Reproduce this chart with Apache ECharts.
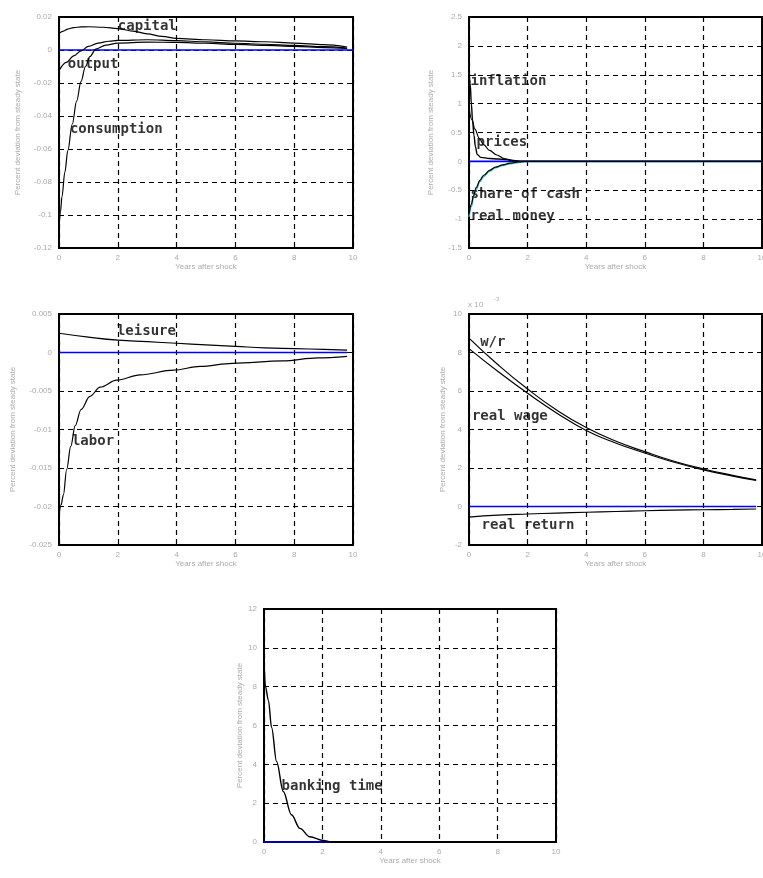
<!DOCTYPE html>
<html>
<head>
<meta charset="utf-8">
<script src="https://cdn.jsdelivr.net/npm/echarts@6/dist/echarts.min.js"></script>
<style>
html,body{margin:0;padding:0;background:#fff;overflow:hidden;}
#c{width:763px;height:878px;}
</style>
</head>
<body>
<div id="c"></div>
<script>
// ---- data (x = years after shock, y = percent deviation from steady state) ----
// Panel 1
const capital = [[0,0.0100],[0.15,0.0115],[0.3,0.0127],[0.5,0.0136],[0.75,0.0140],[1,0.0141],[1.5,0.0138],[2,0.0130],[2.5,0.0115],[3,0.0098],[3.5,0.0083],[4,0.0071],[5,0.0062],[6,0.0055],[7,0.0050],[8,0.0042],[9,0.0032],[9.8,0.0018]];
const output = [[0,-0.0125],[0.25,-0.0075],[0.5,-0.0035],[0.75,-0.0005],[1,0.0022],[1.33,0.0042],[1.7,0.0053],[2,0.0058],[3,0.0062],[4,0.0057],[5,0.0049],[6,0.0041],[7,0.0035],[8,0.0028],[9,0.0020],[9.8,0.0011]];
const consumption = [[0,-0.108],[0.05,-0.098],[0.1,-0.089],[0.2,-0.074],[0.3,-0.061],[0.45,-0.045],[0.6,-0.031],[0.75,-0.019],[0.9,-0.010],[1.05,-0.004],[1.25,0.0005],[1.6,0.003],[2,0.0042],[3,0.0048],[4,0.0046],[5,0.0041],[6,0.0034],[7,0.0028],[8,0.0022],[9,0.0015],[9.8,0.0009]];
// Panel 2
const inflation = [[0,1.62],[0.04,1.35],[0.08,1.0],[0.12,0.72],[0.17,0.45],[0.22,0.25],[0.28,0.12],[0.4,0.07],[0.7,0.05],[1.0,0.04],[1.3,0.03],[1.5,0.01],[1.8,0],[10,0]];
const prices = [[0,0.92],[0.1,0.72],[0.2,0.56],[0.35,0.4],[0.5,0.29],[0.7,0.19],[0.95,0.11],[1.2,0.05],[1.45,0.02],[1.7,0.005],[1.9,0],[10,0]];
const shareOfCash = [[0,-0.96],[0.08,-0.78],[0.15,-0.63],[0.25,-0.48],[0.37,-0.35],[0.5,-0.26],[0.7,-0.17],[0.9,-0.11],[1.15,-0.07],[1.4,-0.04],[1.75,-0.015],[2,0],[10,0]];
const realMoney = [[0,-0.92],[0.08,-0.74],[0.15,-0.6],[0.25,-0.45],[0.37,-0.33],[0.5,-0.24],[0.7,-0.155],[0.9,-0.1],[1.15,-0.06],[1.4,-0.03],[1.7,-0.01],[1.9,0],[10,0]];
// Panel 3
const leisure = [[0,0.0025],[1,0.0020],[2,0.0016],[3,0.0014],[4,0.0012],[5,0.0010],[6,0.0008],[7,0.0006],[8,0.0005],[9,0.0004],[9.8,0.0003]];
const labor = [[0,-0.0213],[0.07,-0.0198],[0.15,-0.0185],[0.26,-0.0152],[0.4,-0.0122],[0.55,-0.0095],[0.75,-0.0074],[1.05,-0.0057],[1.4,-0.0045],[1.96,-0.0036],[2.76,-0.0029],[3.9,-0.0023],[4.8,-0.0018],[5.9,-0.0014],[7.6,-0.0011],[8.8,-0.0007],[9.8,-0.0005]];
// Panel 4 (x 10^-3)
const wOverR = [[0,8.75],[1,7.35],[2,6.1],[3,5.0],[4,4.1],[5,3.4],[6,2.85],[7,2.35],[8,1.95],[9,1.62],[9.8,1.38]];
const realWage = [[0,8.2],[1,7.0],[2,5.88],[3,4.85],[4,3.95],[5,3.3],[6,2.78],[7,2.3],[8,1.9],[9,1.58],[9.8,1.35]];
const realReturn = [[0,-0.55],[1,-0.45],[2,-0.39],[3,-0.34],[4,-0.3],[5,-0.26],[6,-0.22],[7,-0.19],[8,-0.17],[9,-0.15],[9.8,-0.13]];
// Panel 5
const bankingTime = [[0,9.4],[0.05,8.0],[0.15,7.3],[0.26,5.9],[0.43,4.15],[0.66,2.6],[0.94,1.4],[1.23,0.7],[1.57,0.27],[2.03,0.08],[2.3,0],[10,0]];
// steady state lines
const steady1 = [[0,0],[10,0]];
const steady2 = [[0,0],[10,0]];
const steady3 = [[0,0],[9.8,0]];
const steady4 = [[0,0],[9.8,0]];
const steady5 = [[0,0],[2.3,0]];
// axis ranges [min, max, interval]
const yRanges = [[-0.12,0.02,0.02],[-1.5,2.5,0.5],[-0.025,0.005,0.005],[-2,10,2],[0,12,2]];
// in-plot labels [x, y, text]
const labels1 = [[2.0,0.0145,'capital'],[0.3,-0.0085,'output'],[0.37,-0.048,'consumption']];
const labels2 = [[0.05,1.38,'inflation'],[0.26,0.33,'prices'],[0.05,-0.57,'share of cash'],[0.05,-0.95,'real money']];
const labels3 = [[1.97,0.0028,'leisure'],[0.44,-0.0115,'labor']];
const labels4 = [[0.38,8.55,'w/r'],[0.1,4.7,'real wage'],[0.43,-0.96,'real return']];
const labels5 = [[0.6,2.88,'banking time']];

const grey = '#ababab';
const grids = [
  {left:59, top:17, width:294, height:231},
  {left:469, top:17, width:293, height:231},
  {left:59, top:314, width:294, height:231},
  {left:469, top:314, width:293, height:231},
  {left:264, top:609, width:292, height:233}
].map(g => Object.assign(g, {show:true, borderColor:'#000', borderWidth:2, backgroundColor:'transparent',
  containLabel:false, outerBoundsMode:'none'}));

const yNameGaps = [37, 34, 42, 22, 20];
const splitStyle = {color:'#000', type:[5,4], width:1.2};

const xAxes = grids.map((g,i) => ({
  gridIndex:i, type:'value', min:0, max:10, interval:2,
  axisLine:{show:false}, axisTick:{show:false},
  splitLine:{show:true, lineStyle:splitStyle},
  axisLabel:{color:grey, fontSize:8, margin:6, fontFamily:'Liberation Sans'},
  name:'Years after shock', nameLocation:'middle', nameGap:15,
  nameTextStyle:{color:grey, fontSize:8, fontFamily:'Liberation Sans'}
}));
const yAxes = grids.map((g,i) => ({
  gridIndex:i, type:'value', min:yRanges[i][0], max:yRanges[i][1], interval:yRanges[i][2],
  axisLine:{show:false}, axisTick:{show:false},
  splitLine:{show:true, lineStyle:splitStyle},
  axisLabel:{color:grey, fontSize:8, margin:7, fontFamily:'Liberation Sans'},
  name:'Percent deviation from steady state', nameLocation:'middle', nameGap:yNameGaps[i],
  nameTextStyle:{color:grey, fontSize:8, fontFamily:'Liberation Sans'}
}));

function line(i, data, color, width, mono) {
  const s = {type:'line', xAxisIndex:i, yAxisIndex:i, data:data, showSymbol:false, symbol:'none',
    smooth:mono ? 0.35 : 0.5, lineStyle:{color:color, width:width||1.2}, silent:true, animation:false};
  if (mono) s.smoothMonotone = 'x';
  return s;
}
function blue(i, data) { return line(i, data, '#0000ff', 1.6, false); }
function lab(i, data) {
  return {type:'scatter', xAxisIndex:i, yAxisIndex:i, data:data, symbolSize:0, silent:true, animation:false,
    label:{show:true, position:'right', distance:0, formatter:p => p.data[2], color:'#000',
      fontFamily:'DejaVu Sans Mono', fontSize:14, fontWeight:'bold'}, labelLayout:{hideOverlap:false}};
}

const series = [
  blue(0, steady1), line(0, capital,'#000',1.2,true), line(0, output,'#000',1.2,true), line(0, consumption,'#000',1.2,true), lab(0, labels1),
  blue(1, steady2), line(1, inflation,'#000',1.4,true), line(1, prices,'#000',1.2,true), line(1, shareOfCash,'#20b0b0',1.5,true), line(1, realMoney,'#000',1.2,true), lab(1, labels2),
  blue(2, steady3), line(2, leisure,'#000',1.2,false), line(2, labor,'#000',1.2,true), lab(2, labels3),
  blue(3, steady4), line(3, wOverR,'#000',1.2,false), line(3, realWage,'#000',1.2,false), line(3, realReturn,'#000',1.2,false), lab(3, labels4),
  blue(4, steady5), line(4, bankingTime,'#000', 1.4, true), lab(4, labels5)
];

const chart = echarts.init(document.getElementById('c'), null, {renderer:'canvas'});
chart.setOption({
  animation:false,
  backgroundColor:'#fff',
  grid:grids, xAxis:xAxes, yAxis:yAxes, series:series,
  graphic:[{type:'text', left:468, top:301, style:{text:'x 10', fill:grey, fontSize:8, fontFamily:'Liberation Sans'}},
           {type:'text', left:494, top:296, style:{text:'-3', fill:grey, fontSize:6, fontFamily:'Liberation Sans'}}]
});
</script>
</body>
</html>
